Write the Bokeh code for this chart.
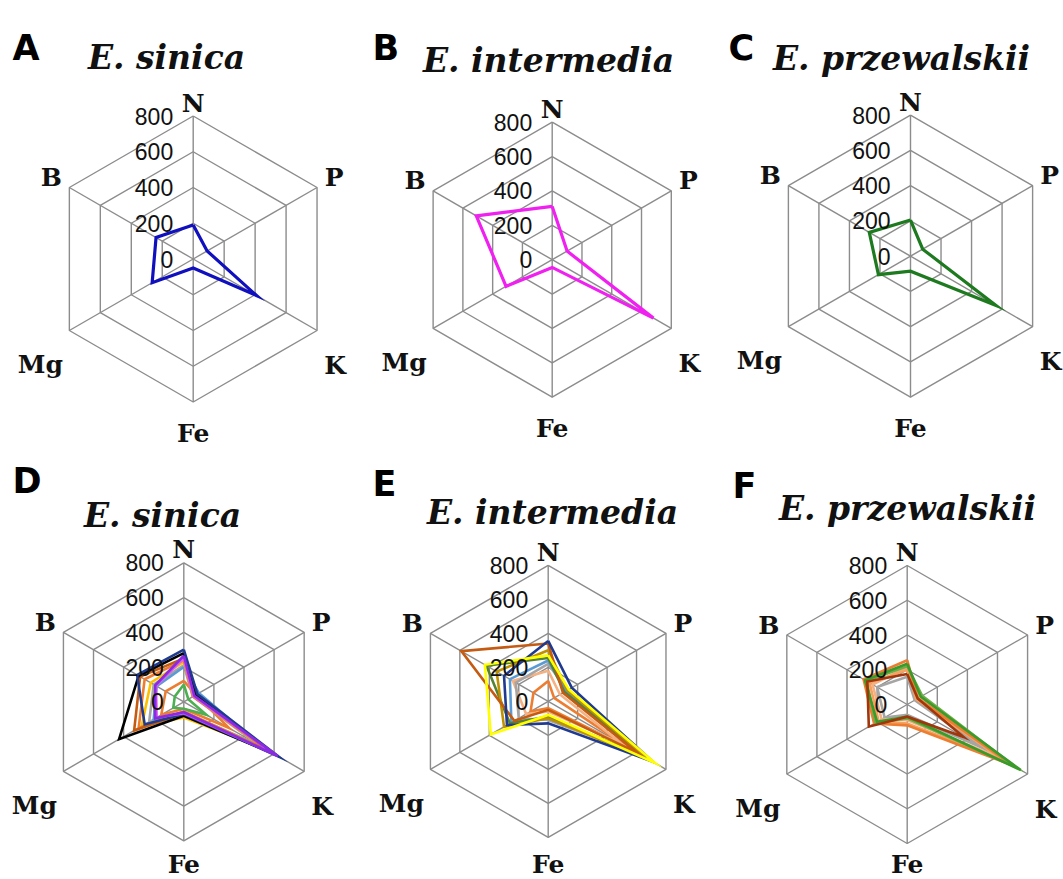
import numpy as np
from bokeh.plotting import figure
from bokeh.models import Range1d
from bokeh.core.properties import value
from bokeh.embed import file_html
from bokeh.resources import INLINE

# ---------------- data ----------------
axis_names = ["N", "P", "K", "Fe", "Mg", "B"]
tick_values = [0, 200, 400, 600, 800]
tick_labels = ["0", "200", "400", "600", "800"]
max_value = 800

panel_letters = ["A", "B", "C", "D", "E", "F"]
panel_titles = ["E. sinica", "E. intermedia", "E. przewalskii",
                "E. sinica", "E. intermedia", "E. przewalskii"]

# top row: one series per species   (N, P, K, Fe, Mg, B)
sinica_mean = [190, 90, 410, 50, 265, 240]
intermedia_mean = [310, 100, 680, 45, 310, 510]
przewalskii_mean = [205, 80, 560, 85, 210, 270]

# bottom row: populations per species
sinica_pops = [
    [120, 80, 300, 40, 150, 120],
    [100, 30, 150, 40, 70, 60],
    [210, 60, 500, 60, 230, 200],
    [200, 100, 520, 75, 200, 180],
    [230, 65, 540, 90, 280, 220],
    [240, 60, 560, 55, 300, 260],
    [250, 75, 580, 65, 330, 290],
    [280, 80, 600, 80, 430, 300],
    [300, 90, 630, 70, 260, 310],
    [250, 65, 600, 65, 180, 185],
    [265, 70, 625, 60, 190, 190],
]
intermedia_pops = [
    [120, 40, 550, 40, 120, 100],
    [180, 80, 500, 60, 150, 240],
    [220, 130, 620, 110, 200, 220],
    [240, 120, 640, 100, 250, 260],
    [255, 110, 650, 90, 260, 420],
    [300, 130, 680, 100, 300, 350],
    [340, 100, 600, 50, 230, 590],
    [355, 160, 710, 130, 280, 300],
    [270, 140, 725, 80, 390, 430],
]
przewalskii_pops = [
    [160, 50, 500, 60, 150, 200],
    [215, 80, 600, 90, 170, 230],
    [200, 60, 650, 110, 190, 250],
    [255, 70, 700, 120, 220, 290],
    [220, 100, 720, 80, 210, 270],
    [235, 90, 755, 70, 200, 280],
    [175, 70, 375, 70, 255, 265],
]

# ---------------- styles / layout ----------------
top_colors = ["#1010BE", "#F020F0", "#1E7A1E"]
sinica_colors = ["#ED7D31", "#4CAF50", "#A5A5A5", "#5B9BD5", "#FFC000",
                 "#ED7D31", "#C55A11", "#000000", "#1F3A8F", "#E060F0", "#8A2BE2"]
intermedia_colors = ["#ED7D31", "#F4B183", "#A5A5A5", "#5B9BD5", "#548235",
                     "#BF9000", "#C55A11", "#203A8F", "#FFFF00"]
przewalskii_colors = ["#A5A5A5", "#F4B183", "#F8A060", "#ED7D31", "#70AD47",
                      "#3A9A2A", "#A0360C"]

W, H = 1063, 879

# panel centres (page px) and radius of the 800 ring
centres = [(192.7, 258.5), (551.7, 259.2), (910.0, 255.7),
           (183.3, 701.3), (547.7, 700.8), (906.7, 704.0)]
radii = [143, 137.5, 141, 139, 136, 139]
title_pos = [(166, 57), (548, 60), (901, 58), (162, 515), (552, 512), (907, 508)]
letter_pos = [(12, 47), (372, 47), (728, 47), (12, 480), (372, 483), (732, 485)]
label_off = [(0, -13), (17, -10), (18, 35), (0, 31), (-29, 34), (-18, -10)]
bottom_limit = 864  # keep the lowest labels inside the page

angles = np.deg2rad(np.arange(6) * 60.0)
ux = np.sin(angles)
uy = -np.cos(angles)

p = figure(width=W, height=H, x_range=Range1d(0, W), y_range=Range1d(H, 0),
           output_backend="svg", toolbar_location=None, min_border=0)
p.axis.visible = False
p.grid.visible = False
p.outline_line_color = None


def to_xy(cx, cy, R, vals):
    v = np.asarray(vals, dtype=float) / max_value * R
    xs = cx + v * ux
    ys = cy + v * uy
    return list(xs) + [xs[0]], list(ys) + [ys[0]]


all_series = [
    ([sinica_mean], [top_colors[0]], 3.2),
    ([intermedia_mean], [top_colors[1]], 3.2),
    ([przewalskii_mean], [top_colors[2]], 3.2),
    (sinica_pops, sinica_colors, 2.6),
    (intermedia_pops, intermedia_colors, 2.6),
    (przewalskii_pops, przewalskii_colors, 2.6),
]

for i in range(6):
    cx, cy = centres[i]
    R = radii[i]
    # rings
    for tv in tick_values[1:]:
        xs, ys = to_xy(cx, cy, R, [tv] * 6)
        p.line(xs, ys, line_color="#8C8C8C", line_width=1.4)
    # spokes
    vx, vy = to_xy(cx, cy, R, [max_value] * 6)
    for k in range(6):
        p.line([cx, vx[k]], [cy, vy[k]], line_color="#8C8C8C", line_width=1.4)
    # series
    series, cols, lw = all_series[i]
    for vals, col in zip(series, cols):
        xs, ys = to_xy(cx, cy, R, vals)
        p.line(xs, ys, line_color=col, line_width=lw, line_join="miter")
    # tick labels
    ty = [cy - R * tv / max_value for tv in tick_values]
    p.text(x=[cx - 20] * 5, y=ty, text=tick_labels,
           text_font=value("Liberation Sans"), text_font_size="23px",
           text_align="right", text_baseline="middle", text_color="#111111")
    # axis labels
    lx = [vx[k] + label_off[k][0] for k in range(6)]
    ly = [min(vy[k] + label_off[k][1], bottom_limit) for k in range(6)]
    p.text(x=lx, y=ly, text=axis_names, text_font=value("DejaVu Serif"),
           text_font_style="bold", text_font_size="25px",
           text_align="center", text_baseline="alphabetic", text_color="#111111")
    # title
    p.text(x=[title_pos[i][0]], y=[title_pos[i][1]], text=[panel_titles[i]],
           text_font=value("DejaVu Serif"), text_font_style="bold italic",
           text_font_size="33px", text_align="center", text_baseline="alphabetic",
           text_color="#111111")
    # panel letter
    p.text(x=[letter_pos[i][0]], y=[letter_pos[i][1]], text=[panel_letters[i]],
           text_font=value("DejaVu Sans"), text_font_style="bold",
           text_font_size="35px", text_align="left", text_baseline="alphabetic",
           text_color="#000000")

open("out.html", "w").write(file_html(p, INLINE))
